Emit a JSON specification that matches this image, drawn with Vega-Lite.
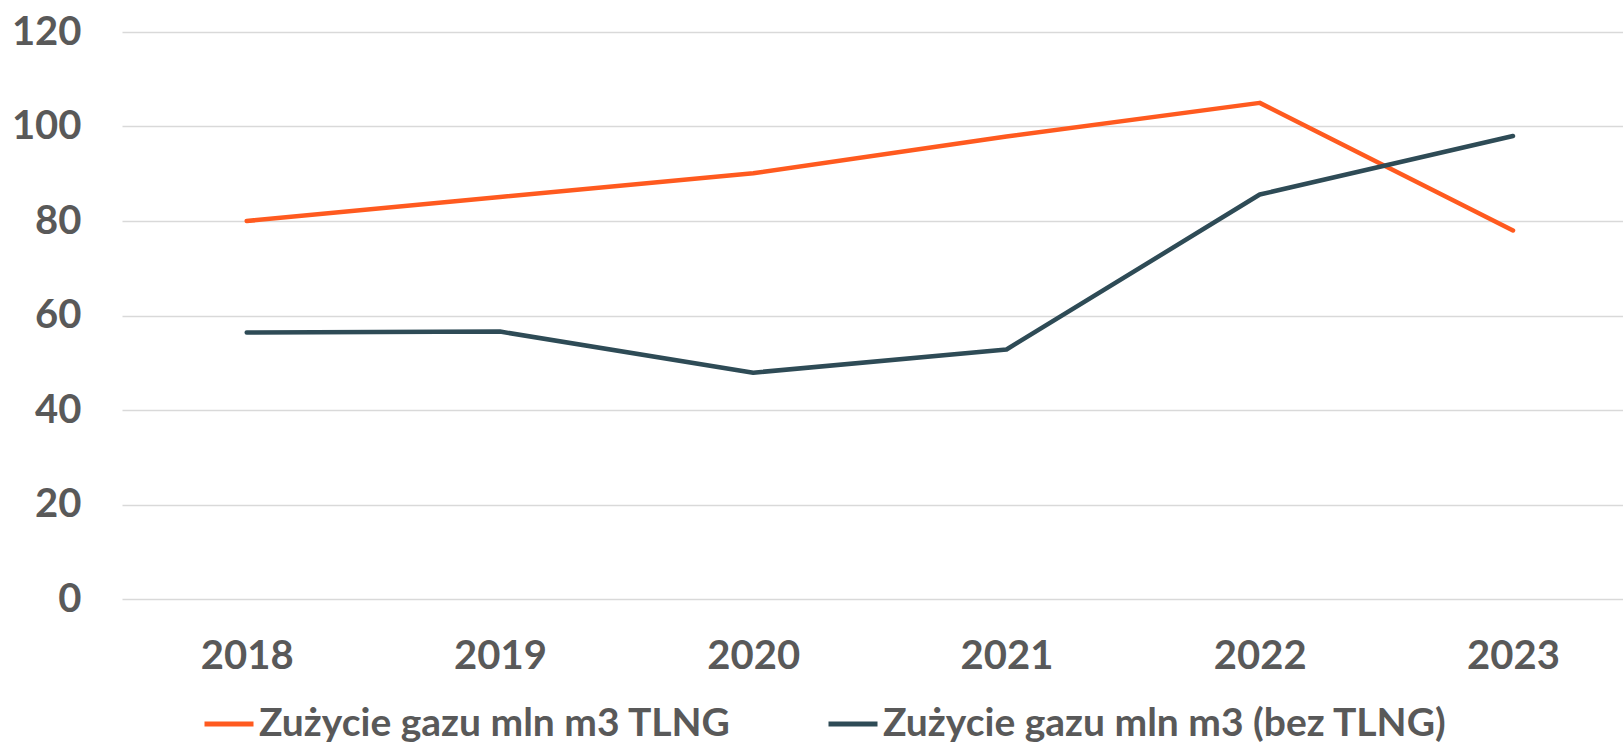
{
  "$schema": "https://vega.github.io/schema/vega-lite/v6.json",
  "autosize": {"type": "none"},
  "width": 1501,
  "height": 567,
  "padding": {"left": 122, "top": 32, "right": 0, "bottom": 145},
  "background": "white",
  "config": {
    "view": {"stroke": null},
    "font": "Lato",
    "axis": {"labelFont": "Lato", "labelFontWeight": "bold", "labelColor": "#595959", "labelFontSize": 40}
  },
  "data": {
    "values": [
      {"rok": 2018, "seria": "Zużycie gazu mln m3 TLNG", "wartosc": 80.0},
      {"rok": 2019, "seria": "Zużycie gazu mln m3 TLNG", "wartosc": 85.1},
      {"rok": 2020, "seria": "Zużycie gazu mln m3 TLNG", "wartosc": 90.1},
      {"rok": 2021, "seria": "Zużycie gazu mln m3 TLNG", "wartosc": 97.9},
      {"rok": 2022, "seria": "Zużycie gazu mln m3 TLNG", "wartosc": 105.0},
      {"rok": 2023, "seria": "Zużycie gazu mln m3 TLNG", "wartosc": 78.0},
      {"rok": 2018, "seria": "Zużycie gazu mln m3 (bez TLNG)", "wartosc": 56.4},
      {"rok": 2019, "seria": "Zużycie gazu mln m3 (bez TLNG)", "wartosc": 56.6},
      {"rok": 2020, "seria": "Zużycie gazu mln m3 (bez TLNG)", "wartosc": 47.9},
      {"rok": 2021, "seria": "Zużycie gazu mln m3 (bez TLNG)", "wartosc": 52.8},
      {"rok": 2022, "seria": "Zużycie gazu mln m3 (bez TLNG)", "wartosc": 85.6},
      {"rok": 2023, "seria": "Zużycie gazu mln m3 (bez TLNG)", "wartosc": 98.0}
    ]
  },
  "mark": {"type": "line", "strokeWidth": 4.5, "strokeCap": "round", "strokeJoin": "round"},
  "encoding": {
    "x": {
      "field": "rok", "type": "quantitative",
      "scale": {"domain": [2017.5076, 2023.4343], "nice": false, "zero": false},
      "axis": {"title": null, "values": [2018, 2019, 2020, 2021, 2022, 2023], "format": "d", "domain": false, "ticks": false, "grid": false, "labelPadding": 37}
    },
    "y": {
      "field": "wartosc", "type": "quantitative",
      "scale": {"domain": [0, 120], "nice": false},
      "axis": {"title": null, "values": [0, 20, 40, 60, 80, 100, 120], "domain": false, "ticks": false, "grid": true, "gridColor": "#d9d9d9", "gridWidth": 1.3, "labelPadding": 41}
    },
    "color": {
      "field": "seria", "type": "nominal",
      "scale": {"domain": ["Zużycie gazu mln m3 TLNG", "Zużycie gazu mln m3 (bez TLNG)"], "range": ["#FF5A1F", "#2E4B56"]},
      "legend": {
        "title": null, "orient": "none", "direction": "horizontal",
        "legendX": 80, "legendY": 665, "padding": 0,
        "symbolType": "stroke", "symbolSize": 2401, "symbolStrokeWidth": 5,
        "labelFont": "Lato", "labelFontWeight": "bold", "labelFontSize": 39, "labelColor": "#595959",
        "labelOffset": 3, "labelLimit": 0, "columnPadding": 86
      }
    }
  }
}
